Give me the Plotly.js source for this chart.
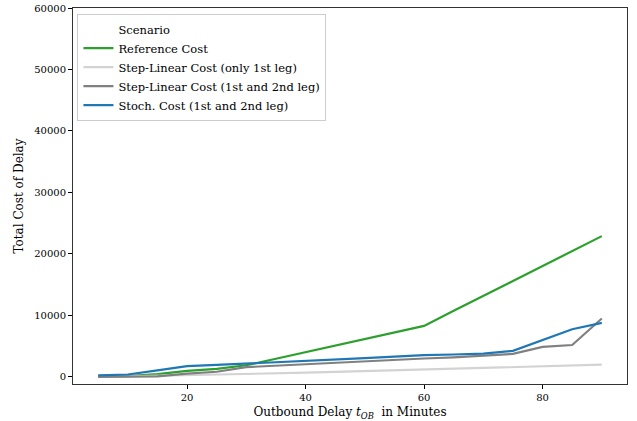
<!DOCTYPE html>
<html>
<head>
<meta charset="utf-8">
<script src="https://cdn.plot.ly/plotly-3.0.1.min.js"></script>
<style>html,body{margin:0;padding:0;background:#fff;}#chart{width:637px;height:421px;}</style>
</head>
<body>
<div id="chart"></div>
<script>
const delayMinutes = [5, 10, 15, 20, 25, 30, 35, 40, 45, 50, 55, 60, 65, 70, 75, 80, 85, 90];
const referenceCost = [100, 150, 450, 1000, 1300, 1900, 2970, 4030, 5100, 6170, 7230, 8300, 10750, 13200, 15650, 18100, 20500, 22900];
const stepLinearFirstLeg = [0, 90, 170, 260, 340, 430, 560, 690, 820, 950, 1080, 1210, 1340, 1470, 1600, 1730, 1860, 1990];
const stepLinearBothLegs = [0, 0, 100, 550, 850, 1600, 1850, 2000, 2250, 2500, 2750, 3000, 3200, 3450, 3750, 4900, 5200, 9500];
const stochCostBothLegs = [270, 400, 1080, 1750, 1950, 2150, 2350, 2550, 2800, 3050, 3300, 3550, 3650, 3800, 4250, 6000, 7750, 8800];
const seriesNames = ["Reference Cost", "Step-Linear Cost (only 1st leg)", "Step-Linear Cost (1st and 2nd leg)", "Stoch. Cost (1st and 2nd leg)"];
const legendTitle = "Scenario";
const yTicks = [0, 10000, 20000, 30000, 40000, 50000, 60000];
const xTicks = [20, 40, 60, 80];

const colors = ["#2ca02c", "#d3d3d3", "#808080", "#1f77b4"];
const seriesValues = [referenceCost, stepLinearFirstLeg, stepLinearBothLegs, stochCostBothLegs];

const traces = [{
  x: [null], y: [null], type: "scatter", mode: "lines", name: legendTitle,
  line: {color: "rgba(0,0,0,0)", width: 2}, hoverinfo: "skip"
}];
seriesValues.forEach((vals, i) => {
  traces.push({
    x: delayMinutes, y: vals, type: "scatter", mode: "lines", name: seriesNames[i],
    line: {color: colors[i], width: 2.2}
  });
});

const font = {family: "DejaVu Serif, serif", size: 12, color: "#000"};
const tickFont = {family: "DejaVu Serif, serif", size: 10, color: "#000"};
const layout = {
  width: 637, height: 421,
  margin: {l: 73, r: 10, t: 8, b: 37},
  paper_bgcolor: "#fff", plot_bgcolor: "#fff",
  font: font,
  showlegend: true,
  legend: {
    x: 0.008, y: 0.985, xanchor: "left", yanchor: "top",
    bgcolor: "rgba(255,255,255,0.8)", bordercolor: "#cccccc", borderwidth: 1,
    font: {family: "DejaVu Serif, serif", size: 11.5, color: "#000"},
    itemwidth: 30, tracegroupgap: 0
  },
  xaxis: {
    range: [0.75, 94.25], tickvals: xTicks, ticks: "outside", ticklen: 4, tickcolor: "#000",
    showgrid: false, zeroline: false, showline: true, mirror: true, linecolor: "#333", linewidth: 1,
    title: {text: "Outbound Delay <i>t</i><sub><i>OB</i></sub>  in Minutes", font: font, standoff: 7},
    tickfont: tickFont
  },
  yaxis: {
    range: [-1145, 60000], tickvals: yTicks, tickformat: "d", ticks: "outside", ticklen: 4, tickcolor: "#000",
    showgrid: false, zeroline: false, showline: true, mirror: true, linecolor: "#333", linewidth: 1,
    title: {text: "Total Cost of Delay", font: font, standoff: 7},
    tickfont: tickFont
  }
};
Plotly.newPlot("chart", traces, layout, {displayModeBar: false, staticPlot: true});
</script>
</body>
</html>
